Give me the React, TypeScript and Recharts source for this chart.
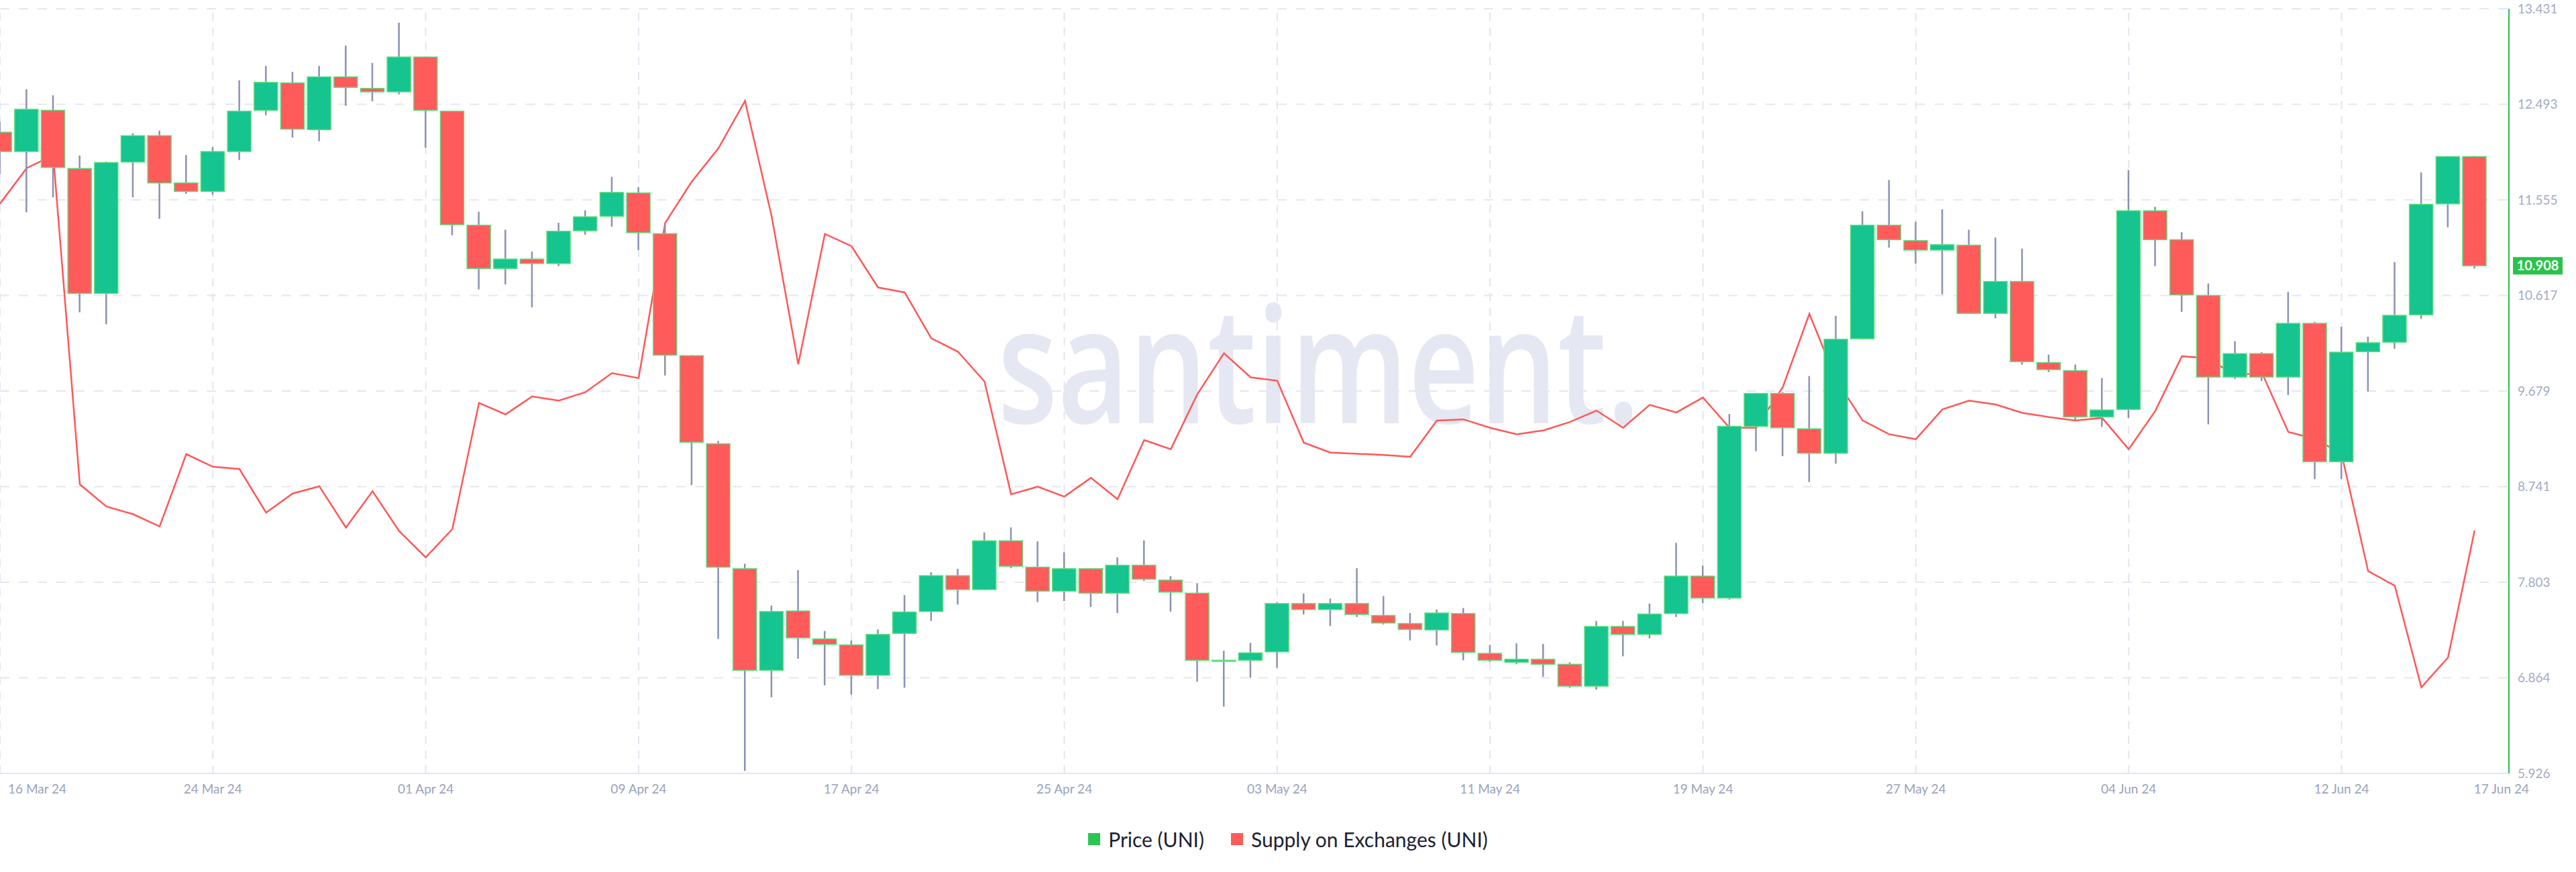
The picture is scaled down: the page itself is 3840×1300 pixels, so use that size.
import {
  ComposedChart,
  Bar,
  Line,
  XAxis,
  YAxis,
  CartesianGrid,
  Legend,
  ReferenceLine,
} from 'recharts';

// daily OHLC for UNI, 16 Mar 24 .. 17 Jun 24 (94 days)
const opens = [
  12.219, 12.029, 12.434, 11.863, 10.637, 11.926, 12.185, 11.721, 11.638, 12.029,
  12.434, 12.703, 12.244, 12.762, 12.649, 12.615, 12.957, 12.425, 11.306, 10.881,
  10.974, 10.93, 11.252, 11.394, 11.623, 11.223, 10.026, 9.161, 7.935, 6.938,
  7.52, 7.246, 7.187, 6.889, 7.3, 7.515, 7.867, 7.73, 8.209, 7.95,
  7.715, 7.935, 7.695, 7.969, 7.823, 7.695, 7.036, 7.036, 7.119, 7.593,
  7.534, 7.593, 7.476, 7.397, 7.334, 7.495, 7.104, 7.017, 7.046, 6.997,
  6.782, 7.368, 7.29, 7.495, 7.862, 7.647, 9.332, 9.655, 9.308, 9.068,
  10.192, 11.306, 11.155, 11.062, 11.11, 10.441, 10.754, 9.958, 9.879, 9.425,
  9.498, 11.448, 11.164, 10.617, 9.816, 10.046, 9.816, 10.343, 8.985, 10.065,
  10.158, 10.427, 11.516, 11.98,
];
const highs = [
  12.322, 12.64, 12.581, 11.99, 11.931, 12.21, 12.234, 11.995, 12.073, 12.728,
  12.869, 12.811, 12.869, 13.069, 12.899, 13.294, 12.962, 12.43, 11.438, 11.262,
  11.047, 11.33, 11.452, 11.78, 11.682, 11.31, 10.031, 9.19, 7.984, 7.573,
  7.92, 7.324, 7.231, 7.339, 7.676, 7.901, 7.935, 8.291, 8.34, 8.204,
  8.096, 7.94, 8.047, 8.213, 7.862, 7.793, 7.129, 7.207, 7.608, 7.691,
  7.642, 7.94, 7.666, 7.5, 7.534, 7.549, 7.187, 7.202, 7.197, 7.017,
  7.422, 7.422, 7.593, 8.189, 7.964, 9.454, 9.66, 9.669, 9.826, 10.417,
  11.443, 11.75, 11.34, 11.462, 11.262, 11.184, 11.076, 10.036, 9.938, 9.806,
  11.848, 11.487, 11.238, 10.734, 10.168, 10.06, 10.651, 10.358, 10.309, 10.212,
  10.944, 11.824, 11.985, 11.985,
];
const lows = [
  11.809, 11.433, 11.58, 10.451, 10.334, 11.58, 11.369, 11.614, 11.604, 11.946,
  12.386, 12.166, 12.131, 12.478, 12.522, 12.591, 12.068, 11.208, 10.676, 10.725,
  10.5, 10.905, 11.213, 11.291, 11.062, 9.831, 8.756, 7.246, 5.95, 6.674,
  7.051, 6.791, 6.699, 6.753, 6.767, 7.422, 7.583, 7.725, 7.94, 7.607,
  7.617, 7.559, 7.5, 7.813, 7.515, 6.826, 6.582, 6.864, 6.962, 7.486,
  7.373, 7.461, 7.388, 7.231, 7.182, 7.036, 7.021, 6.997, 6.875, 6.767,
  6.748, 7.075, 7.251, 7.461, 7.598, 7.632, 9.088, 9.039, 8.785, 8.966,
  10.187, 11.086, 10.93, 10.627, 10.436, 10.392, 9.938, 9.865, 9.391, 9.327,
  9.415, 10.905, 10.456, 9.352, 9.797, 9.777, 9.64, 8.814, 8.814, 9.674,
  10.094, 10.387, 11.286, 10.881,
];
const closes = [
  12.029, 12.444, 11.873, 10.637, 11.921, 12.185, 11.721, 11.638, 12.029, 12.425,
  12.708, 12.249, 12.762, 12.659, 12.615, 12.957, 12.434, 11.311, 10.881, 10.974,
  10.93, 11.247, 11.389, 11.628, 11.233, 10.031, 9.176, 7.95, 6.938, 7.515,
  7.256, 7.192, 6.889, 7.29, 7.51, 7.867, 7.73, 8.209, 7.959, 7.715,
  7.935, 7.695, 7.969, 7.832, 7.705, 7.036, 7.036, 7.109, 7.593, 7.534,
  7.593, 7.486, 7.402, 7.339, 7.5, 7.114, 7.036, 7.046, 6.997, 6.782,
  7.368, 7.29, 7.49, 7.862, 7.647, 9.332, 9.655, 9.318, 9.068, 10.187,
  11.306, 11.164, 11.062, 11.115, 10.441, 10.754, 9.967, 9.889, 9.425, 9.493,
  11.448, 11.164, 10.622, 9.816, 10.046, 9.816, 10.343, 8.985, 10.06, 10.153,
  10.422, 11.511, 11.98, 10.908,
];

// supply on exchanges, million UNI
const supply = [
  94.9, 95.83, 96.17, 87.56, 86.98, 86.78, 86.46, 88.35, 88.02, 87.96,
  86.82, 87.32, 87.51, 86.43, 87.38, 86.34, 85.65, 86.39, 89.69, 89.39,
  89.86, 89.75, 89.97, 90.47, 90.34, 94.4, 95.48, 96.35, 97.59, 94.57,
  90.7, 94.11, 93.79, 92.71, 92.58, 91.38, 91.03, 90.25, 87.3, 87.5,
  87.24, 87.73, 87.17, 88.72, 88.48, 89.92, 90.99, 90.36, 90.27, 88.65,
  88.39, 88.36, 88.33, 88.28, 89.23, 89.26, 89.04, 88.87, 88.97, 89.19,
  89.49, 89.04, 89.64, 89.44, 89.83, 89.04, 89.04, 90.1, 92.02, 90.3,
  89.23, 88.87, 88.74, 89.52, 89.75, 89.65, 89.43, 89.32, 89.23, 89.3,
  88.48, 89.48, 90.91, 90.86, 90.4, 90.49, 88.93, 88.75, 88.36, 85.29,
  84.91, 82.25, 83.03, 86.35,
];

const tickDays = [0, 8, 16, 24, 32, 40, 48, 56, 64, 72, 80, 88, 93];
const tickLabels = [
  '16 Mar 24', '24 Mar 24', '01 Apr 24', '09 Apr 24', '17 Apr 24', '25 Apr 24',
  '03 May 24', '11 May 24', '19 May 24', '27 May 24', '04 Jun 24', '12 Jun 24', '17 Jun 24',
];
const gridDays = tickDays.slice(0, -1);
const priceTicks = [5.926, 6.864, 7.803, 8.741, 9.679, 10.617, 11.555, 12.493, 13.431];

const GREEN = '#15c48e';
const RED = '#ff5b5b';

const data = opens.map((o, i) => ({
  i,
  open: o,
  high: highs[i],
  low: lows[i],
  close: closes[i],
  supply: supply[i],
}));

const lastClose = closes[closes.length - 1];

const Candle = (props: any) => {
  const { x, y, width, height, payload } = props;
  if (!payload) return null;
  const { open, close, high, low } = payload;
  const h = Math.abs(height);
  const top = Math.min(y, y + height);
  const ratio = high - low > 0 ? h / (high - low) : 0;
  const bodyTop = top + (high - Math.max(open, close)) * ratio;
  const bodyH = Math.max(Math.abs(open - close) * ratio, 1.5);
  const cx = x + width / 2;
  return (
    <g>
      <line x1={cx} x2={cx} y1={top} y2={top + h} stroke="#8b91b3" strokeWidth={2.5} />
      <rect
        x={x}
        y={bodyTop}
        width={width}
        height={bodyH}
        fill={close >= open ? GREEN : RED}
        stroke="#5ddc7c"
        strokeWidth={1.5}
      />
    </g>
  );
};

const XTick = (props: any) => {
  const { x, y, payload } = props;
  const k = tickDays.indexOf(payload.value);
  const first = k === 0;
  const last = k === tickDays.length - 1;
  return (
    <text
      x={x + (first ? 12 : last ? 40 : 0)}
      y={y}
      dy={30}
      textAnchor={first ? 'start' : 'middle'}
      fill="#9aa2bd"
      fontSize={19}
      fontFamily="Lato"
    >
      {tickLabels[k]}
    </text>
  );
};

const PriceTag = (props: any) => {
  const { viewBox } = props;
  if (!viewBox) return null;
  const bx = viewBox.x + viewBox.width + 6;
  return (
    <g>
      <rect x={bx} y={viewBox.y - 13} width={74} height={26} fill="#28c44a" />
      <text
        x={bx + 37}
        y={viewBox.y}
        dy={7}
        textAnchor="middle"
        fill="#fff"
        fontSize={20}
        fontWeight={700}
        fontFamily="Lato"
      >
        {lastClose.toFixed(3)}
      </text>
    </g>
  );
};

const LegendBox = () => (
  <div
    style={{
      height: 40,
      display: 'flex',
      justifyContent: 'center',
      alignItems: 'center',
      fontFamily: 'Lato',
      fontSize: 30,
      color: '#1d2133',
    }}
  >
    <span style={{ width: 18, height: 18, background: '#2bc653', marginRight: 12 }} />
    <span style={{ marginRight: 40 }}>Price (UNI)</span>
    <span style={{ width: 18, height: 18, background: RED, marginRight: 12 }} />
    <span>Supply on Exchanges (UNI)</span>
  </div>
);

const App = () => {
  return (
    <div style={{ position: 'absolute', left: 0, top: 0, width: 3840, height: 1300, background: '#fff' }}>
      {/* santiment watermark */}
      <svg width={3840} height={1300} style={{ position: 'absolute', left: 0, top: 0 }}>
        <text
          x={1487}
          y={631}
          fontSize={242}
          fontFamily="Open Sans"
          fontWeight={600}
          fill="#e5e8f2"
          textLength={958}
          lengthAdjust="spacingAndGlyphs"
        >
          santiment.
        </text>
      </svg>
      <div style={{ position: 'absolute', left: 0, top: 0 }}>
        <ComposedChart
          width={3840}
          height={1300}
          data={data}
          margin={{ top: 13, right: 0, left: 0, bottom: 29 }}
        >
          <CartesianGrid
            yAxisId="price"
            vertical={false}
            stroke="#e4e7f1"
            strokeWidth={2}
            strokeDasharray="14 14"
          />
          {gridDays.map((d) => (
            <ReferenceLine
              key={d}
              yAxisId="price"
              x={d}
              stroke="#e2e5f0"
              strokeWidth={2}
              strokeDasharray="12 10"
              zIndex={-100}
            />
          ))}
          <XAxis
            dataKey="i"
            type="number"
            domain={[0, 94.29]}
            allowDataOverflow
            ticks={tickDays}
            interval={0}
            tick={<XTick />}
            tickLine={false}
            tickSize={0}
            tickMargin={0}
            height={78}
            axisLine={{ stroke: '#e3e6f0', strokeWidth: 2 }}
          />
          <YAxis
            yAxisId="price"
            orientation="right"
            domain={[5.926, 13.431]}
            ticks={priceTicks}
            interval={0}
            width={100}
            tickLine={false}
            tickSize={0}
            tickMargin={13}
            axisLine={{ stroke: '#2dbe4e', strokeWidth: 2 }}
            tick={{ fill: '#a3aac4', fontSize: 19, fontFamily: 'Lato' }}
            tickFormatter={(v: number) => v.toFixed(3)}
          />
          <YAxis yAxisId="supply" hide domain={[80, 100]} />
          <Line
            yAxisId="supply"
            dataKey="supply"
            type="linear"
            stroke="#ff5757"
            strokeWidth={2.5}
            dot={false}
            isAnimationActive={false}
            zIndex={250}
          />
          <Bar
            yAxisId="price"
            dataKey={(d: any) => [d.low, d.high]}
            barSize={35}
            shape={<Candle />}
            isAnimationActive={false}
          />
          <ReferenceLine
            yAxisId="price"
            y={lastClose}
            stroke="none"
            label={<PriceTag />}
          />
          <Legend verticalAlign="bottom" content={<LegendBox />} />
        </ComposedChart>
      </div>
    </div>
  );
};

export default App;
